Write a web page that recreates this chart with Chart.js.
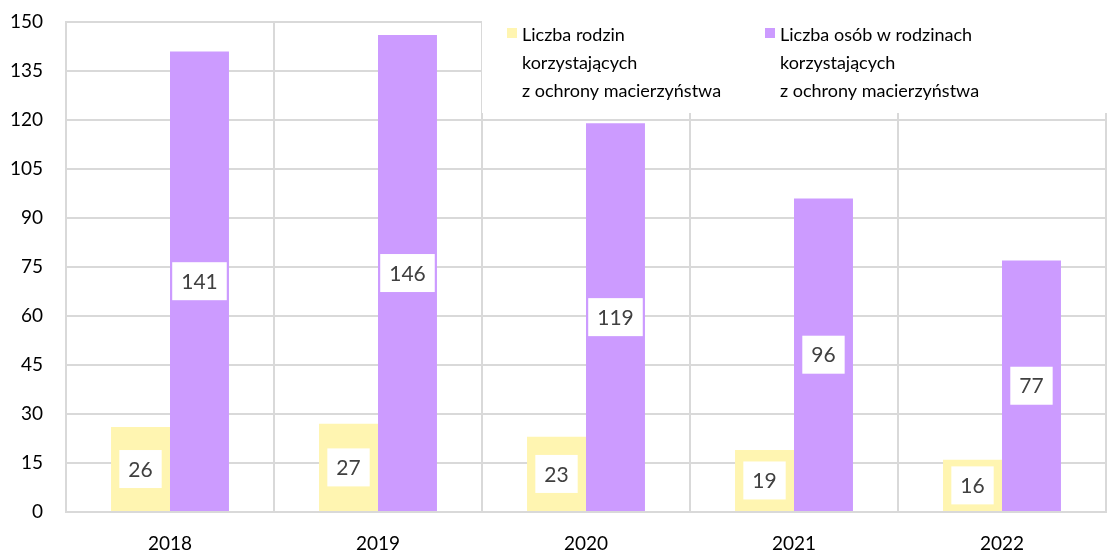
<!DOCTYPE html>
<html>
<head>
<meta charset="utf-8">
<script src="https://cdn.jsdelivr.net/npm/chart.js@4/dist/chart.umd.min.js"></script>
<style>
  html, body { margin: 0; padding: 0; background: #fff; }
  #wrap { width: 1107px; height: 551px; }
</style>
</head>
<body>
<div id="wrap"><canvas id="myChart" width="1107" height="551"></canvas></div>
<script>
const years = ["2018", "2019", "2020", "2021", "2022"];
const families = [26, 27, 23, 19, 16];
const persons = [141, 146, 119, 96, 77];
const seriesNames = [
  ["Liczba rodzin", "korzystających", "z ochrony macierzyństwa"],
  ["Liczba osób w rodzinach", "korzystających", "z ochrony macierzyństwa"]
];
const yTicks = [0, 15, 30, 45, 60, 75, 90, 105, 120, 135, 150];

const yellow = "#FFF5B1";
const purple = "#CC9BFF";
const FONT = "Lato, 'Open Sans', sans-serif";

// white boxes with the value, centred on each bar
const valueLabels = {
  id: "valueLabels",
  afterDatasetsDraw(chart) {
    const ctx = chart.ctx;
    ctx.save();
    ctx.font = "21px " + FONT;
    ctx.textAlign = "center";
    ctx.textBaseline = "middle";
    chart.data.datasets.forEach((ds, i) => {
      chart.getDatasetMeta(i).data.forEach((bar, j) => {
        const text = String(ds.data[j]);
        const w = ctx.measureText(text).width + 18;
        const h = 38;
        const cy = (bar.y + bar.base) / 2;
        ctx.fillStyle = "#fff";
        ctx.fillRect(bar.x - w / 2, cy - h / 2, w, h);
        ctx.fillStyle = "#404040";
        ctx.fillText(text, bar.x, cy + 1);
      });
    });
    ctx.restore();
  }
};

// legend sits inside the plot on a white box
const boxLegend = {
  id: "boxLegend",
  beforeDatasetsDraw(chart) {
    const ctx = chart.ctx;
    ctx.save();
    ctx.fillStyle = "#fff";
    ctx.fillRect(482, 0, chart.width - 482, 113);
    ctx.restore();
  },
  afterDraw(chart) {
    const ctx = chart.ctx;
    const xs = [507, 765];
    ctx.save();
    ctx.font = "18px " + FONT;
    ctx.textBaseline = "alphabetic";
    ctx.textAlign = "left";
    chart.data.datasets.forEach((ds, i) => {
      ctx.fillStyle = ds.backgroundColor;
      ctx.fillRect(xs[i], 28, 10, 10);
      ctx.fillStyle = "#000";
      seriesNames[i].forEach((line, k) => {
        ctx.fillText(line, xs[i] + 15, 41 + k * 28);
      });
    });
    ctx.restore();
  }
};

new Chart("myChart", {
  type: "bar",
  data: {
    labels: years,
    datasets: [
      { label: seriesNames[0].join(" "), data: families, backgroundColor: yellow },
      { label: seriesNames[1].join(" "), data: persons, backgroundColor: purple }
    ]
  },
  options: {
    responsive: false,
    animation: false,
    layout: { padding: { top: 22, right: 1, left: 0, bottom: 0 } },
    plugins: { legend: { display: false }, tooltip: { enabled: false } },
    datasets: { bar: { barPercentage: 1, categoryPercentage: 0.567 } },
    scales: {
      x: {
        grid: { color: "#D9D9D9", lineWidth: 2, drawTicks: false, offset: true },
        border: { color: "#D9D9D9", width: 2 },
        ticks: { color: "#000", font: { family: FONT, size: 19 }, padding: 20 },
        afterFit: (s) => { s.height = 39; }
      },
      y: {
        min: 0,
        max: 150,
        afterBuildTicks: (s) => { s.ticks = yTicks.map((v) => ({ value: v })); },
        grid: { color: "#D9D9D9", lineWidth: 2, drawTicks: false },
        border: { color: "#D9D9D9", width: 2 },
        ticks: { color: "#000", font: { family: FONT, size: 19 }, padding: 23 },
        afterFit: (s) => { s.width = 66; s.paddingTop = 0; s.paddingBottom = 0; }
      }
    }
  },
  plugins: [boxLegend, valueLabels]
});
</script>
</body>
</html>
